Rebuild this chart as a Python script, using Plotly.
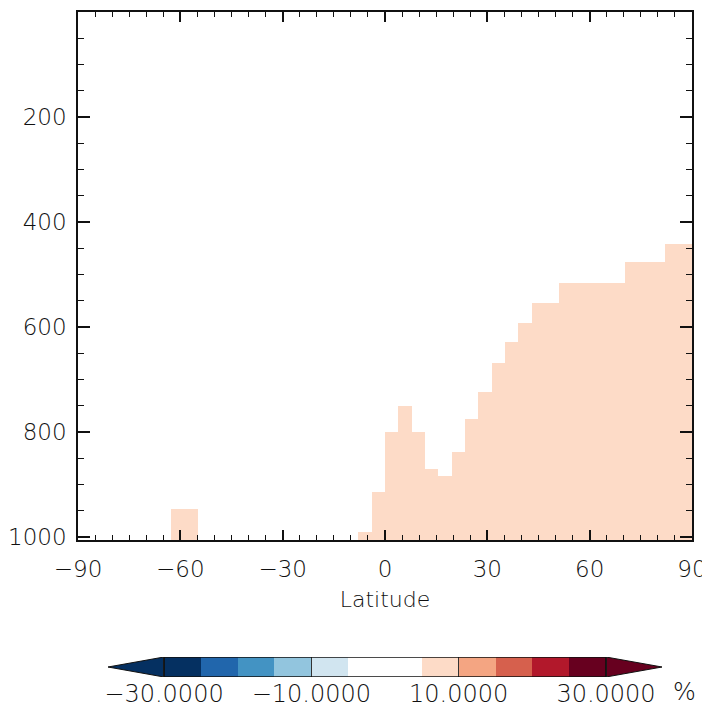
import plotly.graph_objects as go

# ---- data ----
lat_centers = [-60.65, -56.74,
               -5.87, -1.96, 1.96, 5.87, 9.78, 13.70, 17.61, 21.52, 25.43, 29.35,
               33.26, 37.17, 41.09, 45.00, 48.91, 52.83, 56.74, 60.65, 64.57, 68.48,
               72.39, 76.30, 80.22, 84.13, 88.04]
top_pressure = [947, 947,
                990, 914, 800, 750, 800, 870, 884, 839, 775, 724,
                669, 629, 592, 554, 554, 516, 516, 516, 516, 516,
                477, 477, 477, 442, 442]
cell_width = 180 / 46
surface_pressure = 1010

cb_edges = [-30, -25, -20, -15, -10, -5, 5, 10, 15, 20, 25, 30]
cb_colors = ["#053061", "#2166ac", "#4393c3", "#92c5de", "#d1e5f0", "#ffffff",
             "#fddbc7", "#f4a582", "#d6604d", "#b2182b", "#67001f"]
cb_tickvals = [-30, -10, 10, 30]
cb_ticktext = ["\u221230.0000", "\u221210.0000", "10.0000", "30.0000"]

x_ticks = [-90, -60, -30, 0, 30, 60, 90]
y_ticks = [200, 400, 600, 800, 1000]

FONT = dict(family="DejaVu Sans", size=24, color="#111111", weight=300)

fig = go.Figure()

# main field
fig.add_trace(go.Bar(
    x=lat_centers,
    base=top_pressure,
    y=[surface_pressure - t for t in top_pressure],
    width=cell_width,
    marker=dict(color="#fddbc7", line=dict(width=0)),
    xaxis="x", yaxis="y", showlegend=False, hoverinfo="skip",
))

# colorbar segments
fig.add_trace(go.Bar(
    y=[0.5] * len(cb_colors),
    base=cb_edges[:-1],
    x=[cb_edges[i + 1] - cb_edges[i] for i in range(len(cb_colors))],
    orientation="h",
    width=1,
    marker=dict(color=cb_colors, line=dict(width=0)),
    xaxis="x2", yaxis="y2", showlegend=False, hoverinfo="skip",
))
ext = 7.6
fig.add_trace(go.Scatter(
    x=[cb_edges[0], cb_edges[0] - ext, cb_edges[0], cb_edges[0]],
    y=[0, 0.5, 1, 0], fill="toself", fillcolor=cb_colors[0], mode="lines",
    line=dict(color="#111111", width=1),
    xaxis="x2", yaxis="y2", showlegend=False, hoverinfo="skip",
))
fig.add_trace(go.Scatter(
    x=[cb_edges[-1], cb_edges[-1] + ext, cb_edges[-1], cb_edges[-1]],
    y=[0, 0.5, 1, 0], fill="toself", fillcolor=cb_colors[-1], mode="lines",
    line=dict(color="#111111", width=1),
    xaxis="x2", yaxis="y2", showlegend=False, hoverinfo="skip",
))

fig.add_shape(type="rect", xref="x2", yref="y2", x0=cb_edges[0], x1=cb_edges[-1],
              y0=0, y1=1, line=dict(color="#111111", width=1.5), layer="above")

# page has an 8px body margin: figure occupies page px (8..710, 8..709)
OFF = 8
W, H = 710 - OFF, 709 - OFF
ml, mr, mt, mb = 78 - OFF, 18, 12 - OFF, 20
ph = H - mt - mb
pw = W - ml - mr

def ypaper(py):
    return (H - mb - (py - OFF)) / ph

def xpaper(px):
    return (px - OFF - ml) / pw

fig.update_layout(
    width=W, height=H,
    margin=dict(l=ml, r=mr, t=mt, b=mb, pad=0, autoexpand=False),
    paper_bgcolor="white", plot_bgcolor="white",
    barmode="overlay", bargap=0,
    font=FONT,
    xaxis=dict(
        domain=[0, 1], range=[-90, 90], tickvals=x_ticks,
        ticks="inside", ticklen=10, tickwidth=1.5, tickcolor="#111111",
        minor=dict(dtick=5, tick0=0, ticks="inside", ticklen=5, tickwidth=1.2, tickcolor="#111111"),
        showline=True, linecolor="#111111", linewidth=1.5, mirror="allticks",
        showgrid=False, zeroline=False, ticklabelstandoff=8,
        tickfont=dict(size=23),
        title=dict(text="Latitude", font=dict(size=22), standoff=10),
        anchor="y", automargin=False,
    ),
    yaxis=dict(
        domain=[ypaper(540), 1], range=[1006, 0], tickvals=y_ticks,
        ticks="inside", ticklen=12, tickwidth=1.5, tickcolor="#111111",
        minor=dict(dtick=50, tick0=0, ticks="inside", ticklen=6, tickwidth=1.2, tickcolor="#111111"),
        showline=True, linecolor="#111111", linewidth=1.5, mirror="allticks",
        showgrid=False, zeroline=False, ticklabelstandoff=5,
        tickfont=dict(size=23),
        anchor="x", automargin=False,
    ),
    xaxis2=dict(
        domain=[xpaper(108), xpaper(662)], range=[-30 - ext, 30 + ext],
        tickvals=cb_tickvals, ticktext=cb_ticktext,
        ticks="inside", ticklen=20, tickwidth=1, tickcolor="#333333",
        showline=False, showgrid=False, zeroline=False,
        ticklabelstandoff=0,
        anchor="y2", automargin=False,
    ),
    yaxis2=dict(
        domain=[ypaper(677), ypaper(657)], range=[0, 1],
        showticklabels=False, ticks="", showline=False, showgrid=False, zeroline=False,
        anchor="x2", automargin=False,
    ),
    annotations=[dict(
        text="%", xref="paper", yref="paper", x=xpaper(684), y=ypaper(692),
        xanchor="center", yanchor="middle", showarrow=False, font=dict(size=24),
    )],
)

fig.write_html("out.html")
